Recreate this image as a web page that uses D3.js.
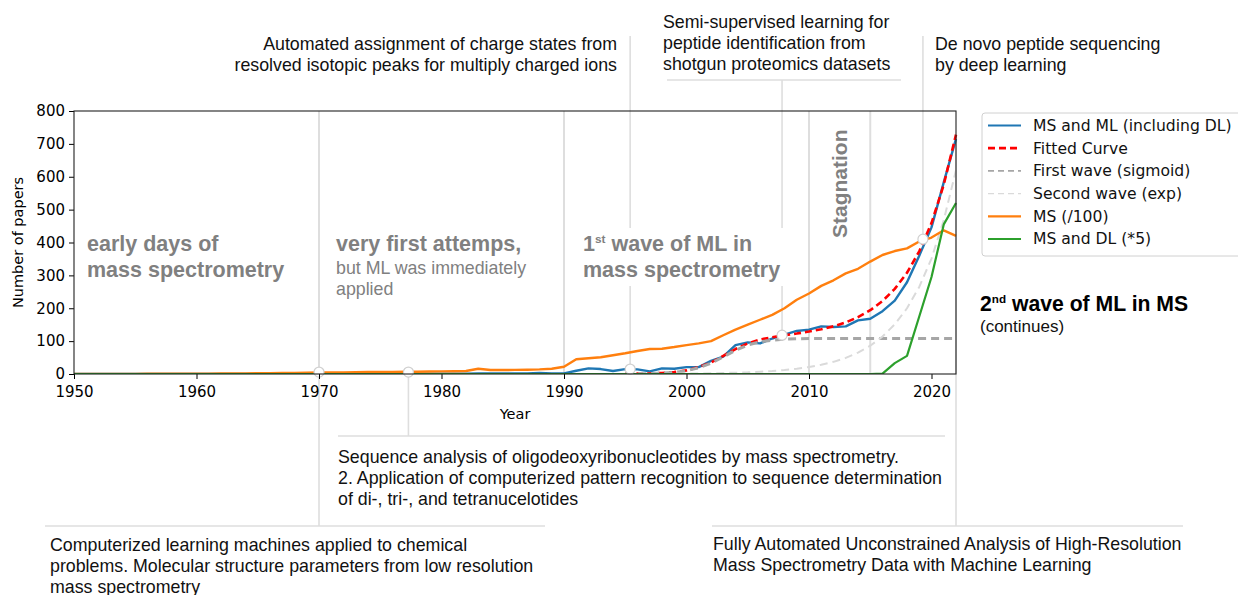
<!DOCTYPE html>
<html>
<head>
<meta charset="utf-8">
<script src="https://cdn.jsdelivr.net/npm/d3@7"></script>
<style>
  body { margin: 0; background: #fff; }
  .ann { font-family: "Liberation Sans", Arial, Helvetica, sans-serif; font-size: 17.8px; fill: #111; }
  .axis text { font-family: "DejaVu Sans", sans-serif; font-size: 15px; fill: #000; }
</style>
</head>
<body>
<svg id="chart" width="1238" height="595"></svg>
<script>
// ---- data ----
const startYear = 1950;
// MS and ML (including DL), one value per year 1950..2022
const msMl = [
  0, 0, 0, 0, 0, 0, 0, 0, 0, 0,
  0, 0, 0, 0, 0, 0, 0, 0, 0, 0,
  1, 0, 1, 1, 1, 1, 1, 1, 1, 1,
  1, 1, 1, 2, 2, 2, 2, 2, 3, 2,
  2, 10, 17, 15, 9, 15, 14, 8, 17, 16,
  21, 21, 40, 53, 88, 96, 93, 108, 120, 131,
  135, 145, 143, 145, 163, 168, 191, 223, 279, 360,
  446, 583, 715
];
// MS (/100)
const ms100 = [
  0.3, 0.3, 0.4, 0.4, 0.5, 0.5, 0.6, 0.7, 0.8, 0.9,
  1.0, 1.1, 1.3, 1.5, 1.8, 2.2, 2.6, 3.0, 3.5, 4.0,
  4.5, 5, 5, 5.5, 6, 6, 6.5, 7, 7, 7.5,
  8, 8.5, 9, 16, 12, 12, 12.5, 13, 14, 16,
  22, 45, 48, 51, 57, 63, 70, 76, 77, 82,
  88, 93, 100, 118, 135, 150, 165, 180, 200, 226,
  245, 268, 285, 306, 320, 342, 362, 374, 382, 403,
  415, 437, 420
];
// MS and DL (*5)
const msDl = [
  0, 0, 0, 0, 0, 0, 0, 0, 0, 0,
  0, 0, 0, 0, 0, 0, 0, 0, 0, 0,
  0, 0, 0, 0, 0, 0, 0, 0, 0, 0,
  0, 0, 0, 0, 0, 0, 0, 0, 0, 0,
  0, 0, 0, 0, 0, 0, 0, 0, 0, 0,
  0, 0, 0, 0, 0, 0, 0, 0, 0, 0,
  0, 0, 0, 0, 0, 0, 1, 33, 55, 175,
  295, 455, 520
];
// fitted curves, one value per year 1995..2022
const fitStart = 1995;
const firstWave = [
  0.3, 0.6, 1.2, 2.5, 5, 10, 19, 33, 52, 72,
  88, 98, 103, 106, 107, 108, 108, 108, 108, 108,
  108, 108, 108, 108, 108, 108, 108, 108
];
const secondWave = [
  0.3, 0.4, 0.5, 0.7, 1.0, 1.3, 1.7, 2.2, 3, 4,
  5, 7, 9, 12, 16, 21, 28, 37, 49, 65,
  86, 114, 151, 200, 265, 351, 468, 620
];
const fitted = [
  0.6, 1.0, 1.7, 3.2, 6, 11, 21, 35, 55, 76,
  93, 105, 112, 118, 123, 129, 136, 145, 157, 173,
  194, 222, 259, 308, 373, 459, 576, 728
];
const xTicks = [1950, 1960, 1970, 1980, 1990, 2000, 2010, 2020];
const yTicks = [0, 100, 200, 300, 400, 500, 600, 700, 800];
const periodYears = [1970, 1990, 2010, 2015];
const noteYears = [1970, 1977.3, 1995.4, 2007.8, 2019.3, 2022];
const noteValues = [6, 6, 15, 118, 410, 715];

// ---- layout ----
const svg = d3.select("#chart");
const pLeft = 74, pRight = 956, pTop = 111, pBottom = 374;
const x = d3.scaleLinear().domain([1950, 2022]).range([pLeft, pRight]);
const y = d3.scaleLinear().domain([0, 800]).range([pBottom, pTop]);

const lightLine = "#dedede";

svg.append("clipPath").attr("id", "plotclip")
  .append("rect").attr("x", pLeft).attr("y", pTop - 2)
  .attr("width", pRight - pLeft + 2).attr("height", pBottom - pTop + 2);

// period separators
svg.selectAll("line.period").data(periodYears).enter().append("line")
  .attr("class", "period")
  .attr("x1", d => x(d)).attr("x2", d => x(d))
  .attr("y1", pTop).attr("y2", pBottom)
  .attr("stroke", lightLine).attr("stroke-width", 2);

// annotation leader lines (vertical), ends in page pixels
const leaderEnds = [526, 436, 36, 80, 36, 526];
svg.selectAll("line.leader").data(noteYears).enter().append("line")
  .attr("class", "leader")
  .attr("x1", d => x(d)).attr("x2", d => x(d))
  .attr("y1", (d, i) => y(noteValues[i]))
  .attr("y2", (d, i) => leaderEnds[i])
  .attr("stroke", lightLine).attr("stroke-width", 1.6);

// horizontal separators of the text boxes
const hLines = [[45, 545, 526], [338, 945, 436], [712, 1183, 526], [667, 901, 80]];
svg.selectAll("line.hsep").data(hLines).enter().append("line")
  .attr("x1", d => d[0]).attr("x2", d => d[1])
  .attr("y1", d => d[2]).attr("y2", d => d[2])
  .attr("stroke", lightLine).attr("stroke-width", 1.6);

// ---- series ----
const lineFrom = (start) => d3.line()
  .x((d, i) => x(start + i))
  .y(d => y(d));

const plot = svg.append("g").attr("clip-path", "url(#plotclip)");
const series = [
  { name: "MS and ML (including DL)", data: msMl, start: startYear, color: "#1f77b4", width: 2.4, dash: null },
  { name: "Fitted Curve", data: fitted, start: fitStart, color: "#f00", width: 2.6, dash: "7,4" },
  { name: "First wave (sigmoid)", data: firstWave, start: fitStart, color: "#a6a6a6", width: 3, dash: "8,5" },
  { name: "Second wave (exp)", data: secondWave, start: fitStart, color: "#dadada", width: 2, dash: "8,5" },
  { name: "MS (/100)", data: ms100, start: startYear, color: "#ff7f0e", width: 2.4, dash: null },
  { name: "MS and DL (*5)", data: msDl, start: startYear, color: "#2ca02c", width: 2.2, dash: null }
];
series.forEach(s => {
  plot.append("path").datum(s.data)
    .attr("d", lineFrom(s.start))
    .attr("fill", "none")
    .attr("stroke", s.color)
    .attr("stroke-width", s.width)
    .attr("stroke-dasharray", s.dash)
    .attr("stroke-linejoin", "round");
});

// markers (the last one sits under the frame and is not drawn)
svg.selectAll("circle.note").data(noteYears.slice(0, 5)).enter().append("circle")
  .attr("cx", d => x(d)).attr("cy", (d, i) => y(noteValues[i]))
  .attr("r", 5).attr("fill", "#fff").attr("stroke", "#d0d0d0").attr("stroke-width", 1.2);

// ---- axes ----
const gx = svg.append("g").attr("class", "axis")
  .attr("transform", `translate(0,${pBottom})`)
  .call(d3.axisBottom(x).tickValues(xTicks).tickFormat(d3.format("d")).tickSize(5).tickPadding(7));
const gy = svg.append("g").attr("class", "axis")
  .attr("transform", `translate(${pLeft},0)`)
  .call(d3.axisLeft(y).tickValues(yTicks).tickSize(5).tickPadding(4));
[gx, gy].forEach(g => {
  g.select(".domain").remove();
  g.selectAll(".tick line").attr("stroke", "#000").attr("stroke-width", 1);
});
svg.append("rect").attr("x", pLeft).attr("y", pTop)
  .attr("width", pRight - pLeft).attr("height", pBottom - pTop)
  .attr("fill", "none").attr("stroke", "#222").attr("stroke-width", 1.1);

svg.append("text").attr("x", (pLeft + pRight) / 2).attr("y", 419)
  .attr("text-anchor", "middle")
  .style("font-family", "DejaVu Sans, sans-serif").style("font-size", "14.5px")
  .text("Year");
svg.append("text").attr("transform", `translate(23,${(pTop + pBottom) / 2}) rotate(-90)`)
  .attr("text-anchor", "middle")
  .style("font-family", "DejaVu Sans, sans-serif").style("font-size", "14.5px")
  .text("Number of papers");

// ---- text helpers ----
function block(lines, px, py, opts = {}) {
  const t = svg.append("text").attr("class", "ann")
    .attr("x", px).attr("y", py)
    .attr("text-anchor", opts.anchor || "start");
  if (opts.size) t.style("font-size", opts.size + "px");
  if (opts.weight) t.style("font-weight", opts.weight);
  if (opts.fill) t.style("fill", opts.fill);
  lines.forEach((ln, i) => {
    const ts = t.append("tspan").attr("x", px).attr("dy", i === 0 ? 0 : (opts.lh || 21));
    if (Array.isArray(ln)) {
      ln.forEach(part => {
        if (part.sup) {
          ts.append("tspan").attr("dy", -8).style("font-size", "0.55em").text(part.sup);
          ts.append("tspan").attr("dy", 8).text(part.t || "");
        } else ts.append("tspan").text(part.t);
      });
    } else ts.text(ln);
  });
  return t;
}

// bottom annotations
block(["Computerized learning machines applied to chemical",
       "problems. Molecular structure parameters from low resolution",
       "mass spectrometry"], 50, 551);
block(["Sequence analysis of oligodeoxyribonucleotides by mass spectrometry.",
       "2. Application of computerized pattern recognition to sequence determination",
       "of di-, tri-, and tetranucelotides"], 338, 463);
block(["Fully Automated Unconstrained Analysis of High-Resolution",
       "Mass Spectrometry Data with Machine Learning"], 713, 550);

// top annotations
block(["Automated assignment of charge states from",
       "resolved isotopic peaks for multiply charged ions"], 617, 50, { anchor: "end" });
block(["Semi-supervised learning for",
       "peptide identification from",
       "shotgun proteomics datasets"], 663, 28);
block(["De novo peptide sequencing",
       "by deep learning"], 935, 50);

// region labels
const grey = "#808080";
block(["early days of", "mass spectrometry"], 87, 251, { size: 21.5, weight: "bold", fill: grey, lh: 26 });
block(["very first attemps,"], 336, 251, { size: 21.5, weight: "bold", fill: grey });
block(["but ML was immediately", "applied"], 336, 274, { size: 17.8, fill: grey, lh: 21 });

const wave1 = block([[{ t: "1" }, { sup: "st", t: " wave of ML in" }], "mass spectrometry"], 583, 251,
  { size: 21.5, weight: "bold", fill: grey, lh: 26 });
const bb = wave1.node().getBBox();
svg.insert("rect", () => wave1.node())
  .attr("x", bb.x - 5).attr("y", bb.y - 4)
  .attr("width", bb.width + 10).attr("height", bb.height + 8)
  .attr("fill", "#fff");

svg.append("text").attr("class", "ann")
  .attr("transform", "translate(847,238) rotate(-90)")
  .style("font-size", "21px").style("font-weight", "bold").style("fill", grey)
  .text("Stagnation");

block([[{ t: "2" }, { sup: "nd", t: " wave of ML in MS" }]], 980, 311,
  { size: 21.2, weight: "bold", fill: "#000" });
block(["(continues)"], 980, 332, { size: 17 });

// ---- legend ----
const lg = svg.append("g").attr("transform", "translate(982,113)");
lg.append("rect").attr("width", 272).attr("height", 143).attr("rx", 3)
  .attr("fill", "#fff").attr("stroke", "#d0d0d0").attr("stroke-width", 1);
const legendDash = ["", "7,4", "6,4", "6,4", "", ""];
const legendWidth = [2.2, 2.8, 1.6, 1.4, 2.2, 2.2];
series.forEach((s, i) => {
  const ly = 12.5 + i * 22.7;
  lg.append("line").attr("x1", 6).attr("x2", 39).attr("y1", ly).attr("y2", ly)
    .attr("stroke", s.color).attr("stroke-width", legendWidth[i])
    .attr("stroke-dasharray", legendDash[i] || null);
  lg.append("text").attr("x", 51).attr("y", ly).attr("dy", "0.35em")
    .style("font-family", "DejaVu Sans, sans-serif").style("font-size", "15.6px")
    .style("fill", "#111").text(s.name);
});
</script>
</body>
</html>
